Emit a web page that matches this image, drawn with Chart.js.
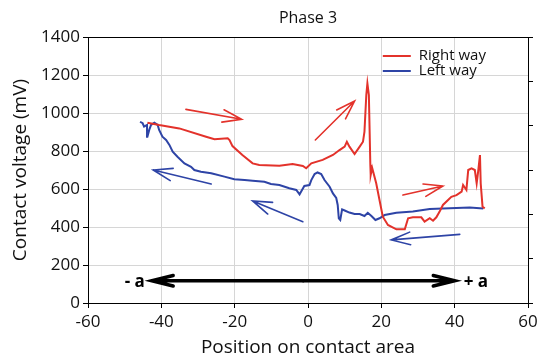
<!DOCTYPE html>
<html>
<head>
<meta charset="utf-8">
<script src="https://cdn.jsdelivr.net/npm/chart.js@4"></script>
<style>
  html, body { margin: 0; padding: 0; background: #fff; }
</style>
</head>
<body>
<canvas id="grafico" width="543" height="359"></canvas>
<script>
// Right way (red)
const rightX = [-43.8, -40.6, -35.1, -27.8, -25.5, -21.9, -21.4, -20.6, -17.9, -15.1, -13.3, -7.8, -4.2, -1.4, -0.5,
  0.9, 4.0, 6.8, 8.6, 10.0, 10.6, 11.3, 12.7, 14.1, 15.0, 15.4, 15.9, 16.2, 16.6, 17.0, 17.1, 17.5, 18.6, 19.5,
  20.4, 21.8, 24.1, 26.4, 27.3, 28.6, 30.9, 31.8, 33.2, 34.1, 35.0, 35.9, 36.8, 38.2, 39.1, 40.5, 41.9, 42.3,
  43.2, 43.7, 44.6, 45.5, 46.0, 46.4, 46.9, 47.1, 47.6, 48.2];
const rightY = [949, 937, 919, 875, 862, 867, 858, 826, 779, 735, 726, 723, 732, 721, 709,
  735, 753, 779, 805, 823, 849, 823, 784, 823, 849, 902, 1095, 1156, 1095, 726, 674, 711, 630, 542,
  454, 411, 388, 388, 446, 451, 451, 428, 446, 433, 451, 481, 516, 542, 559, 568, 586, 621,
  595, 700, 709, 700, 630, 691, 779, 630, 507, 498];

// Left way (blue), from right to left
const leftX = [47.8, 44.1, 36.8, 33.2, 28.6, 24.1, 20.9, 19.5, 18.4, 17.3, 16.3, 15.4, 14.1, 12.7, 11.3, 10.0,
  9.3, 8.8, 8.4, 8.1, 7.7, 6.8, 5.9, 4.5, 3.6, 2.6, 1.8, 0.9, 0.4, -1.0, -1.9, -2.3, -3.2, -5.1, -7.8, -10.1,
  -11.9, -15.1, -17.3, -20.1, -22.8, -26.4, -29.2, -31.0, -31.9, -33.7, -35.6, -36.9, -37.8, -38.7, -39.7,
  -40.6, -41.0, -41.9, -42.8, -43.3, -43.8, -43.9, -44.7, -45.1, -45.8];
const leftY = [498, 503, 498, 495, 481, 475, 463, 446, 437, 458, 475, 458, 468, 468, 476, 487,
  493, 437, 446, 516, 553, 577, 612, 647, 679, 687, 679, 647, 621, 616, 586, 572, 595, 604, 621, 626,
  638, 644, 647, 651, 665, 683, 691, 700, 717, 735, 770, 796, 832, 858, 875,
  911, 937, 949, 937, 911, 875, 937, 928, 946, 954];

// direction arrows drawn on the plot: [x1, y1, x2, y2] in data units, head at (x2, y2)
const redArrows = [[-33.3, 1019, -18.1, 967], [2.0, 858, 12.7, 1063], [25.9, 568, 36.8, 616]];
const blueArrows = [[-26.4, 626, -42.2, 700], [-1.4, 428, -15.1, 537], [41.4, 361, 22.7, 332]];
// contact area span (-a .. +a) at this voltage
const spanX = [-42.6, 40.0];
const spanY = 117;

const titulo = 'Phase 3';
const vermelho = '#e3322b';
const azul = '#2e44a6';
const fonte = "'Open Sans', sans-serif";

function seta(ctx, x1, y1, x2, y2, comp, ang) {
  const a = Math.atan2(y2 - y1, x2 - x1);
  ctx.beginPath();
  ctx.moveTo(x1, y1);
  ctx.lineTo(x2, y2);
  ctx.moveTo(x2 - comp * Math.cos(a - ang), y2 - comp * Math.sin(a - ang));
  ctx.lineTo(x2, y2);
  ctx.lineTo(x2 - comp * Math.cos(a + ang), y2 - comp * Math.sin(a + ang));
  ctx.stroke();
}

const anotacoes = {
  id: 'anotacoes',
  afterDatasetsDraw(chart) {
    const { ctx, chartArea, scales } = chart;
    const sx = scales.x, sy = scales.y;
    ctx.save();
    // borda de cima
    ctx.strokeStyle = '#000';
    ctx.lineWidth = 1;
    ctx.beginPath();
    ctx.moveTo(chartArea.left, chartArea.top + 0.5);
    ctx.lineTo(chartArea.right, chartArea.top + 0.5);
    ctx.stroke();

    // título centrado na área do gráfico
    ctx.fillStyle = '#111';
    ctx.font = "16px " + fonte;
    ctx.textAlign = 'center';
    ctx.textBaseline = 'middle';
    ctx.fillText(titulo, (chartArea.left + chartArea.right) / 2, 18);

    ctx.lineCap = 'round';
    ctx.lineWidth = 1.6;
    ctx.strokeStyle = vermelho;
    redArrows.forEach(s => seta(ctx, sx.getPixelForValue(s[0]), sy.getPixelForValue(s[1]),
      sx.getPixelForValue(s[2]), sy.getPixelForValue(s[3]), 20, 0.32));
    ctx.strokeStyle = azul;
    blueArrows.forEach(s => seta(ctx, sx.getPixelForValue(s[0]), sy.getPixelForValue(s[1]),
      sx.getPixelForValue(s[2]), sy.getPixelForValue(s[3]), 20, 0.32));

    // seta dupla preta
    const xa = sx.getPixelForValue(spanX[0]), xb = sx.getPixelForValue(spanX[1]);
    const ya = sy.getPixelForValue(spanY);
    ctx.strokeStyle = '#000';
    ctx.lineWidth = 3.5;
    seta(ctx, (xa + xb) / 2, ya, xa, ya, 22, 0.24);
    seta(ctx, (xa + xb) / 2, ya, xb, ya, 22, 0.24);
    ctx.fillStyle = '#000';
    ctx.font = "bold 17px " + fonte;
    ctx.textAlign = 'right';
    ctx.fillText('- a', xa - 7, ya + 1);
    ctx.textAlign = 'left';
    ctx.fillText('+ a', xb + 9, ya + 1);

    // legenda dentro do gráfico
    const lx = sx.getPixelForValue(20.4), ly = sy.getPixelForValue(1300);
    ctx.font = "15px " + fonte;
    ctx.lineCap = 'butt';
    ctx.lineWidth = 2;
    chart.data.datasets.forEach((d, i) => {
      const y = ly + i * 15;
      ctx.strokeStyle = d.borderColor;
      ctx.beginPath();
      ctx.moveTo(lx, y);
      ctx.lineTo(lx + 28, y);
      ctx.stroke();
      ctx.fillStyle = '#111';
      ctx.fillText(d.label, lx + 36, y);
    });
    ctx.restore();
  }
};

const toPoints = (xs, ys) => xs.map((x, i) => ({ x: x, y: ys[i] }));

new Chart(document.getElementById('grafico'), {
  type: 'scatter',
  data: {
    datasets: [{
      label: 'Right way',
      data: toPoints(rightX, rightY),
      showLine: true,
      borderColor: vermelho,
      borderWidth: 2,
      pointRadius: 0
    }, {
      label: 'Left way',
      data: toPoints(leftX, leftY),
      showLine: true,
      borderColor: azul,
      borderWidth: 2,
      pointRadius: 0
    }]
  },
  options: {
    responsive: false,
    animation: false,
    layout: { padding: { top: 37 } },
    scales: {
      x: {
        type: 'linear',
        min: -60, max: 60,
        afterFit: s => { s.height = 56; },
        ticks: { stepSize: 20, color: '#111', font: { family: fonte, size: 17 }, padding: 4, maxRotation: 0, callback: v => String(v) },
        grid: { color: '#d6d6d6', tickColor: '#000', tickLength: 5 },
        border: { color: '#000' },
        title: { display: true, text: 'Position on contact area', color: '#111', font: { family: fonte, size: 19 }, padding: 0 }
      },
      y: {
        min: 0, max: 1400,
        afterFit: s => { s.width = 88; },
        ticks: { stepSize: 200, color: '#111', font: { family: fonte, size: 17 }, padding: 3, callback: v => String(v) },
        grid: { color: '#d6d6d6', tickColor: '#000', tickLength: 5 },
        border: { color: '#000' },
        title: { display: true, text: 'Contact voltage (mV)', color: '#111', font: { family: fonte, size: 19 }, padding: { top: 9, bottom: 0 } }
      },
      y2: {
        position: 'right',
        min: 0, max: 6,
        afterFit: s => { s.width = 15; },
        ticks: { stepSize: 1, display: false },
        grid: { drawOnChartArea: false, tickColor: '#000', tickLength: 5 },
        border: { color: '#000' }
      }
    },
    plugins: {
      legend: { display: false },
      tooltip: { enabled: false },
      title: { display: false }
    }
  },
  plugins: [anotacoes]
});
</script>
</body>
</html>
